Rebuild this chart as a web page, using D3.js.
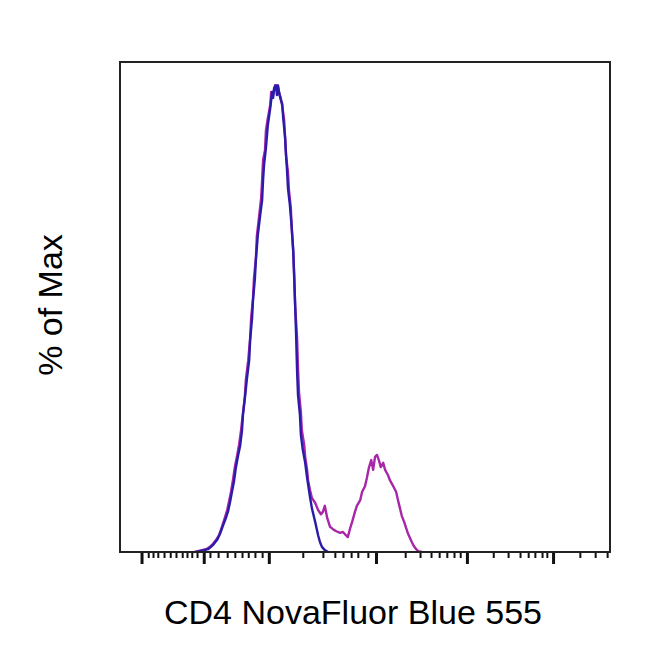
<!DOCTYPE html>
<html><head><meta charset="utf-8">
<script src="https://cdn.jsdelivr.net/npm/d3@7"></script>
<style>html,body{margin:0;padding:0;background:#fff;}svg{display:block;}</style>
</head><body>
<script>
// Channel units (0..1024) on a biexponential display axis; y = % of Max
const isoChannels = [159,167,176,184,190,196,203,209,215,222,226,230,234,238,242,247,251,255,257,261,265,270,272,276,278,282,284,288,293,297,299,301,305,309,314,318,320,322,326,328,330,334,336,339,341,345,347,349,351,355,359,362,364,366,368,370,372,376,378,382,387,391,397,401,408,414,418,422,428,435];
const isoPct = [0,0.2,0.4,0.6,1.1,1.7,2.6,3.9,5.6,7.5,8.8,10.7,12.9,15.0,18.0,20.8,22.7,26.1,29.4,33.0,36.9,41.1,45.4,50.1,54.0,58.7,62.6,67.9,72.2,75.4,79.7,82.9,86.6,91.5,95.1,98.6,97.3,99.4,100,97.9,99.9,97.7,96.9,96.0,93.0,88.9,85.1,81.9,78.0,74.4,69.4,64.7,59.4,52.9,46.5,39.0,33.6,29.4,25.1,21.9,19.1,15.9,11.8,9.4,6.4,3.6,2.1,1.1,0.4,0];

const cd4Channels = [155,163,171,180,188,194,201,207,213,219,224,228,232,236,240,245,249,253,257,261,263,268,272,274,278,280,284,286,291,295,297,299,303,305,309,314,316,320,324,326,330,332,336,339,343,345,347,351,353,357,359,362,364,366,370,372,374,378,380,385,387,391,393,397,401,408,414,420,424,428,433,439,445,451,460,466,472,476,481,485,491,495,502,506,512,516,520,525,529,533,537,541,545,550,554,560,564,571,577,581,585,589,594,598,602,606,610,614,619,623,631];
const cd4Pct = [0,0.2,0.4,0.6,1.1,1.7,2.6,3.6,5.4,7.3,9.0,10.9,12.9,15.4,18.2,20.8,23.1,26.1,29.8,33.4,36.9,41.1,45.9,50.1,54.4,58.7,63.0,67.7,72.2,75.9,79.7,84.0,86.1,90.4,93.0,95.8,98.6,97.9,100,99.0,100,98.6,97.3,95.6,92.6,88.7,84.9,81.4,77.6,73.7,69.0,64.3,58.7,52.9,45.9,39.4,34.3,30.0,26.1,22.9,20.4,17.6,15.4,13.3,11.6,10.5,9.0,8.1,8.6,9.9,7.3,5.4,4.9,4.5,4.1,4.3,3.6,3.2,5.1,6.4,8.6,9.9,11.1,12.9,14.1,15.9,18.0,19.7,17.6,20.4,20.8,19.7,18.2,19.1,17.6,16.5,15.4,14.1,12.9,11.1,9.4,7.7,6.4,5.1,3.9,3.0,2.1,1.3,0.6,0.2,0];

// axis ticks in channel units (-10^3, 0, 10^3, 10^4, 10^5, 10^6) and minors
const majorTicks = [45,175,311,535,725,905];
const minorTicks = [59,69,79,92,105,117,130,140,150,161,188,205,224,240,255,268,282,297,382,424,449,466,483,497,518,596,627,650,667,683,698,711,780,811,836,853,867,882,892,961,993,1018];

const xLabel = "CD4 NovaFluor Blue 555";
const yLabel = "% of Max";

const W = 650, H = 662;
const m = {left:120, top:62, right:40, bottom:110};
const svg = d3.select("body").append("svg").attr("width", W).attr("height", H);

const x = d3.scaleLinear().domain([0,1024]).range([m.left, W - m.right]);
const y = d3.scaleLinear().domain([0,105]).range([H - m.bottom, m.top]);

const line = d3.line().x(d => x(d[0])).y(d => y(d[1]));

// axis ticks
const axB = y(0);
const ax = svg.append("g").attr("transform", `translate(0,${axB})`);
ax.call(d3.axisBottom(x).tickValues(minorTicks).tickSize(6).tickFormat(""))
  .call(g => g.select(".domain").remove())
  .call(g => g.selectAll("line").attr("stroke","#111").attr("stroke-width",2));
ax.append("g").call(d3.axisBottom(x).tickValues(majorTicks).tickSize(12).tickFormat(""))
  .call(g => g.select(".domain").remove())
  .call(g => g.selectAll("line").attr("stroke","#111").attr("stroke-width",3));

// curves
svg.append("path").datum(d3.zip(cd4Channels, cd4Pct)).attr("d", line)
  .attr("fill","none").attr("stroke","#a826a8").attr("stroke-width",2.4).attr("stroke-linejoin","round");
svg.append("path").datum(d3.zip(isoChannels, isoPct)).attr("d", line)
  .attr("fill","none").attr("stroke","#2a1ca8").attr("stroke-width",2.4).attr("stroke-linejoin","round");

// frame
svg.append("rect").attr("x", x(0)).attr("y", y(105)).attr("width", x(1024)-x(0)).attr("height", y(0)-y(105))
  .attr("fill","none").attr("stroke","#222").attr("stroke-width",2);

// labels
svg.append("text").attr("x", 353).attr("y", 624).attr("text-anchor","middle")
  .attr("font-family","Liberation Sans, Arial, sans-serif").attr("font-size",34).attr("fill","#000").text(xLabel);
svg.append("text").attr("transform","translate(62,305) rotate(-90)").attr("text-anchor","middle")
  .attr("font-family","Liberation Sans, Arial, sans-serif").attr("font-size",34).attr("fill","#000").text(yLabel);
</script>
</body></html>
